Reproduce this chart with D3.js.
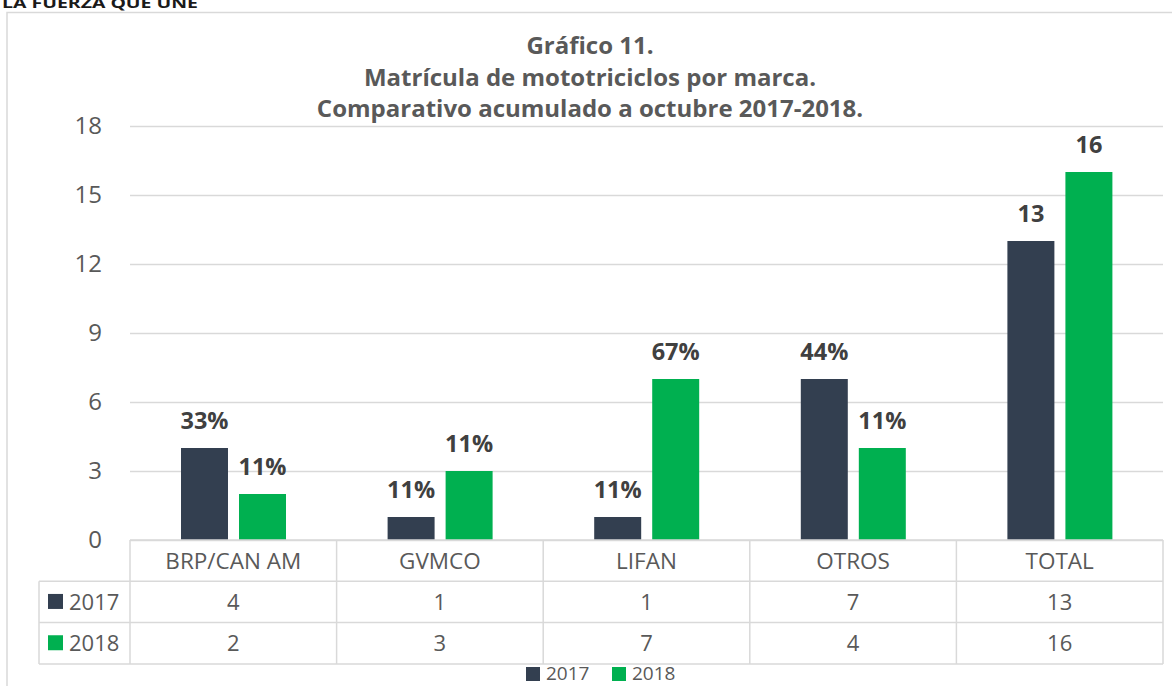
<!DOCTYPE html>
<html>
<head>
<meta charset="utf-8">
<script src="https://cdn.jsdelivr.net/npm/d3@7"></script>
<style>
  body { margin: 0; background: #fff; }
  text { font-family: "Open Sans", sans-serif; }
</style>
</head>
<body>
<svg id="viz"></svg>
<script>
// data
const categories = ["BRP/CAN AM", "GVMCO", "LIFAN", "OTROS", "TOTAL"];
const years = ["2017", "2018"];
const values2017 = [4, 1, 1, 7, 13];
const values2018 = [2, 3, 7, 4, 16];
const labels2017 = ["33%", "11%", "11%", "44%", "13"];
const labels2018 = ["11%", "11%", "67%", "11%", "16"];
const yTicks = [0, 3, 6, 9, 12, 15, 18];
const titleLines = ["Gráfico 11.", "Matrícula de mototriciclos por marca.", "Comparativo acumulado a octubre 2017-2018."];

const width = 1172, height = 686;
const colors = {"2017": "#333f50", "2018": "#00b050"};
const grid = "#d9d9d9";

const svg = d3.select("#viz").attr("width", width).attr("height", height);

// outer frame (only top and left edges are visible)
svg.append("path")
  .attr("d", "M7,700 L7,12.5 L1180,12.5")
  .attr("fill", "none").attr("stroke", grid).attr("stroke-width", 1.5);

// header text, cut at the top edge like the reference
svg.append("text")
  .attr("x", 2).attr("y", 8)
  .attr("font-family", "Liberation Sans, Arial, sans-serif")
  .attr("font-weight", "bold").attr("font-size", 15)
  .attr("textLength", 196).attr("lengthAdjust", "spacingAndGlyphs")
  .attr("fill", "#1a1a1a")
  .text("LA FUERZA QUE UNE");

// title
svg.append("g").selectAll("text")
  .data(titleLines)
  .join("text")
  .attr("x", 590).attr("y", (d, i) => 54 + i * 31.5)
  .attr("text-anchor", "middle")
  .attr("font-weight", "bold").attr("font-size", 24)
  .attr("fill", "#595959")
  .text(d => d);

const plotLeft = 130, plotRight = 1163, plotTop = 126, plotBottom = 540;

const x = d3.scaleBand().domain(categories).range([plotLeft, plotRight]);
const xSub = d3.scaleBand().domain(years).range([51, 156]).paddingInner(0.19);
const y = d3.scaleLinear().domain([0, 18]).range([plotBottom, plotTop]);

// grid lines and y axis
const yAxis = d3.axisLeft(y).tickValues(yTicks).tickSize(-(plotRight - plotLeft)).tickPadding(28);
const ga = svg.append("g").attr("transform", `translate(${plotLeft},0)`).call(yAxis);
ga.select(".domain").remove();
ga.selectAll(".tick line").attr("stroke", grid).attr("stroke-width", 1.3);
ga.selectAll(".tick text")
  .attr("font-size", 24).attr("fill", "#595959")
  .attr("font-family", "Open Sans, sans-serif");

// bars
const series = [
  {year: "2017", values: values2017, labels: labels2017},
  {year: "2018", values: values2018, labels: labels2018}
];

series.forEach(s => {
  const g = svg.append("g");
  g.selectAll("rect")
    .data(categories)
    .join("rect")
    .attr("x", (d, i) => x(d) + xSub(s.year))
    .attr("width", xSub.bandwidth())
    .attr("y", (d, i) => y(s.values[i]))
    .attr("height", (d, i) => y(0) - y(s.values[i]))
    .attr("fill", colors[s.year]);
  g.selectAll("text")
    .data(categories)
    .join("text")
    .attr("x", (d, i) => x(d) + xSub(s.year) + xSub.bandwidth() / 2)
    .attr("y", (d, i) => y(s.values[i]) - 19)
    .attr("text-anchor", "middle")
    .attr("font-weight", "bold").attr("font-size", 23.5)
    .attr("fill", "#404040")
    .text((d, i) => s.labels[i]);
});

// data table
const rowH = 41.3;
const tableTop = plotBottom, legendLeft = 39;
const tg = svg.append("g");
const tableText = "#595959";

// horizontal lines
tg.append("line").attr("x1", plotLeft).attr("x2", plotRight).attr("y1", tableTop).attr("y2", tableTop);
[1, 2, 3].forEach(r => {
  tg.append("line").attr("x1", legendLeft).attr("x2", plotRight)
    .attr("y1", tableTop + r * rowH).attr("y2", tableTop + r * rowH);
});
// vertical lines
categories.forEach(c => {
  tg.append("line").attr("x1", x(c)).attr("x2", x(c))
    .attr("y1", tableTop).attr("y2", tableTop + 3 * rowH);
});
tg.append("line").attr("x1", plotRight).attr("x2", plotRight).attr("y1", tableTop).attr("y2", tableTop + 3 * rowH);
tg.append("line").attr("x1", legendLeft).attr("x2", legendLeft).attr("y1", tableTop + rowH).attr("y2", tableTop + 3 * rowH);
tg.selectAll("line").attr("stroke", grid).attr("stroke-width", 1.5);

// category row
tg.selectAll("text.cat")
  .data(categories)
  .join("text").attr("class", "cat")
  .attr("x", d => x(d) + x.bandwidth() / 2)
  .attr("y", tableTop + rowH / 2 + 8)
  .attr("text-anchor", "middle")
  .attr("font-size", 22.5).attr("fill", tableText)
  .text(d => d);

// value rows
series.forEach((s, r) => {
  const rowY = tableTop + (r + 1) * rowH;
  tg.append("rect")
    .attr("x", 48).attr("y", rowY + rowH / 2 - 8)
    .attr("width", 15).attr("height", 15)
    .attr("fill", colors[s.year]);
  tg.append("text")
    .attr("x", 69).attr("y", rowY + rowH / 2 + 8)
    .attr("font-size", 22).attr("fill", tableText)
    .text(s.year);
  tg.selectAll("text.v" + r)
    .data(categories)
    .join("text").attr("class", "v" + r)
    .attr("x", d => x(d) + x.bandwidth() / 2)
    .attr("y", rowY + rowH / 2 + 8)
    .attr("text-anchor", "middle")
    .attr("font-size", 22).attr("fill", tableText)
    .text((d, i) => s.values[i]);
});

// legend at bottom
const legend = svg.append("g").attr("transform", "translate(526,680)");
years.forEach((yr, i) => {
  const lg = legend.append("g").attr("transform", `translate(${i * 86},0)`);
  lg.append("rect").attr("x", 0).attr("y", -13).attr("width", 14).attr("height", 14).attr("fill", colors[yr]);
  lg.append("text").attr("x", 20).attr("y", 0)
    .attr("font-size", 19).attr("fill", tableText).text(yr);
});
</script>
</body>
</html>
